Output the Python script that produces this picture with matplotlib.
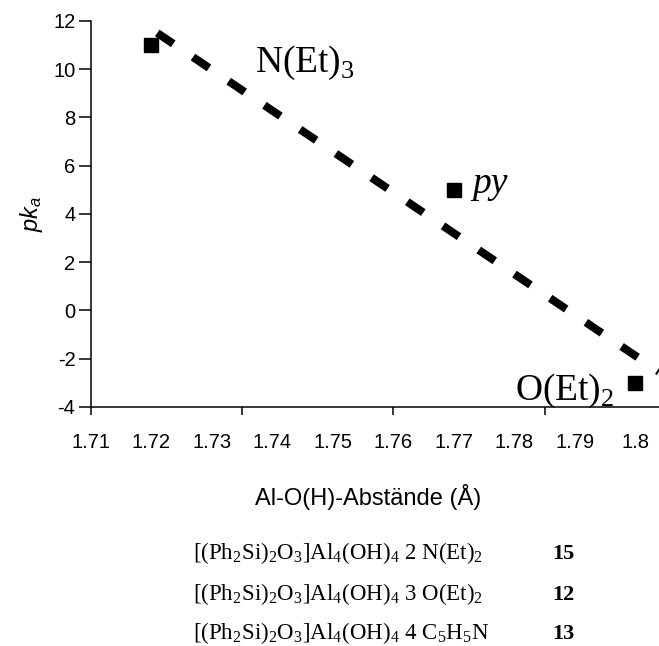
import numpy as np
import matplotlib
matplotlib.use("Agg")
import matplotlib.pyplot as plt
from matplotlib.ticker import MultipleLocator, FixedLocator

plt.rcParams['font.family'] = ['Liberation Sans', 'DejaVu Sans']
plt.rcParams['axes.unicode_minus'] = False
plt.rcParams['mathtext.fontset'] = 'custom'
plt.rcParams['mathtext.rm'] = 'Liberation Serif'
plt.rcParams['mathtext.it'] = 'Liberation Sans:italic'
plt.rcParams['mathtext.bf'] = 'Liberation Serif:bold'

# data
abstand = [1.72, 1.77, 1.80]
pka = [11, 5, -3]
punkt_namen = [r'N(Et)$_\mathrm{3}$', 'py', r'O(Et)$_\mathrm{2}$']
x_ticklabels = ['1.71', '1.72', '1.73', '1.74', '1.75', '1.76', '1.77', '1.78', '1.79', '1.8']
verbindungen = [r'[(Ph$_\mathrm{2}$Si)$_\mathrm{2}$O$_\mathrm{3}$]Al$_\mathrm{4}$(OH)$_\mathrm{4}$ 2 N(Et)$_\mathrm{2}$',
                r'[(Ph$_\mathrm{2}$Si)$_\mathrm{2}$O$_\mathrm{3}$]Al$_\mathrm{4}$(OH)$_\mathrm{4}$ 3 O(Et)$_\mathrm{2}$',
                r'[(Ph$_\mathrm{2}$Si)$_\mathrm{2}$O$_\mathrm{3}$]Al$_\mathrm{4}$(OH)$_\mathrm{4}$ 4 C$_\mathrm{5}$H$_\mathrm{5}$N']
nummern = ['15', '12', '13']

fig = plt.figure(figsize=(6.59, 6.46), dpi=100)
ax = fig.add_axes([0.1376, 0.370, 0.8624, 0.5975])

# linear trendline (like the excel one)
m, b = np.polyfit(abstand, pka, 1)
xl = np.array([1.721, 1.8039])
ax.plot(xl, m * xl + b, color='black', lw=5.8, linestyle=(0, (2.4, 2.95)),
        solid_capstyle='butt', dash_capstyle='butt')

ax.plot(abstand, pka, 's', color='black', ms=9.5, zorder=3)

# point labels
offsets = [(104, -27), (18, -3), (-21, -17)]
aligns = ['left', 'left', 'right']
for i in range(3):
    if punkt_namen[i] == 'py':
        ax.annotate(punkt_namen[i], (abstand[i], pka[i]), xytext=offsets[i],
                    textcoords='offset pixels', ha=aligns[i], va='baseline',
                    fontsize=27, family='Liberation Serif', style='italic')
    else:
        ax.annotate(punkt_namen[i], (abstand[i], pka[i]), xytext=offsets[i],
                    textcoords='offset pixels', ha=aligns[i], va='baseline',
                    fontsize=27, family='Liberation Serif')

ax.set_xlim(1.71, 1.8039)
ax.set_ylim(-4, 12)
ax.yaxis.set_major_locator(MultipleLocator(2))
ax.xaxis.set_major_locator(FixedLocator([1.71 + 0.01 * i for i in range(10)]))
ax.set_xticklabels(x_ticklabels)
ax.xaxis.set_minor_locator(FixedLocator([1.71, 1.735, 1.76, 1.785]))
ax.xaxis.remove_overlapping_locs = False

ax.spines['top'].set_visible(False)
ax.spines['right'].set_visible(False)
ax.spines['left'].set_linewidth(1.1)
ax.spines['bottom'].set_linewidth(1.1)
ax.tick_params(axis='y', direction='out', length=9, width=1.1, labelsize=14.5, pad=2)
ax.tick_params(axis='x', which='major', length=0, labelsize=14.5, pad=19)
ax.tick_params(axis='x', which='minor', direction='out', length=6, width=1.1)

ax.set_ylabel(r'$pk_a$', fontsize=17, labelpad=6)
ax.set_xlabel('Al-O(H)-Abstände (Å)', fontsize=17)
ax.xaxis.set_label_coords(0.488, -0.2)

# compound list under the chart
zeilen_y = [559, 600, 639]
for i in range(3):
    fig.text(193 / 659, 1 - zeilen_y[i] / 646, verbindungen[i], family='Liberation Serif',
             fontsize=16.5, va='baseline')
    fig.text(552 / 659, 1 - zeilen_y[i] / 646, nummern[i], family='Liberation Serif',
             fontsize=16, fontweight='bold', va='baseline')

fig.savefig('out.png', dpi=100)
